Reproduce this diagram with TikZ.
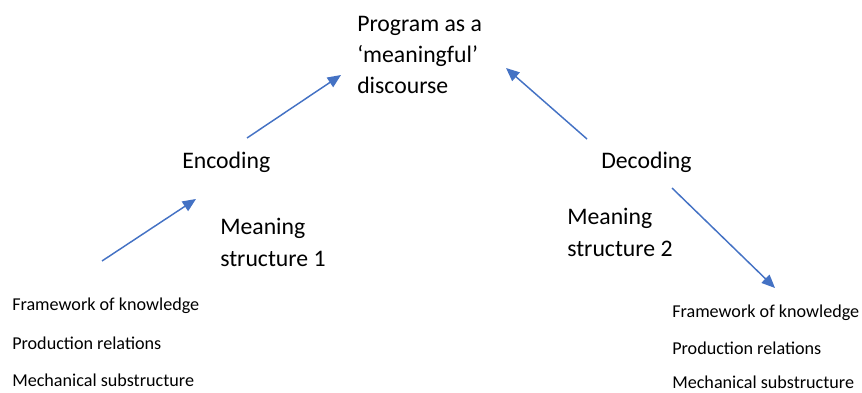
\documentclass[tikz,border=0pt]{standalone}
\usepackage{fontspec}
\setmainfont{Carlito}
\usetikzlibrary{arrows.meta}
\definecolor{arrowblue}{HTML}{4472C4}
\tikzset{
  big/.style={anchor=base west, inner sep=0pt, align=left, font=\fontsize{17.8}{23.5}\selectfont},
  small/.style={anchor=base west, inner sep=0pt, font=\fontsize{13.6}{16}\selectfont},
  flow/.style={draw=arrowblue, line width=1.1pt, -{Triangle[length=10pt,width=8.5pt]}}
}
\begin{document}
\begin{tikzpicture}[x=0.75pt,y=-0.75pt]
\useasboundingbox (0,0) rectangle (862,392);
% multi-line nodes sit on their last baseline
\node[big] (prog) at (357,94){Program as a\\‘meaningful’\\discourse};
\node[big] (enc) at (182,168){Encoding};
\node[big] (dec) at (601,168){Decoding};
\node[big] (ms1) at (220,266){Meaning\\structure 1};
\node[big] (ms2) at (567,256){Meaning\\structure 2};
\node[small] (fk1) at (12,310){Framework of knowledge};
\node[small] (pr1) at (12,349){Production relations};
\node[small] (mc1) at (12,386){Mechanical substructure};
\node[small] (fk2) at (672,317){Framework of knowledge};
\node[small] (pr2) at (672,354){Production relations};
\node[small] (mc2) at (672,388){Mechanical substructure};
% arrow ends
\coordinate (a0) at (102,261);
\coordinate (a1) at (196,199);
\coordinate (b0) at (247,138);
\coordinate (b1) at (341,75);
\coordinate (c0) at (587,139);
\coordinate (c1) at (506,68);
\coordinate (d0) at (672,188);
\coordinate (d1) at (775,288);
\draw[flow](a0) -- (a1);
\draw[flow](b0) -- (b1);
\draw[flow](c0) -- (c1);
\draw[flow](d0) -- (d1);
\end{tikzpicture}
\end{document}
